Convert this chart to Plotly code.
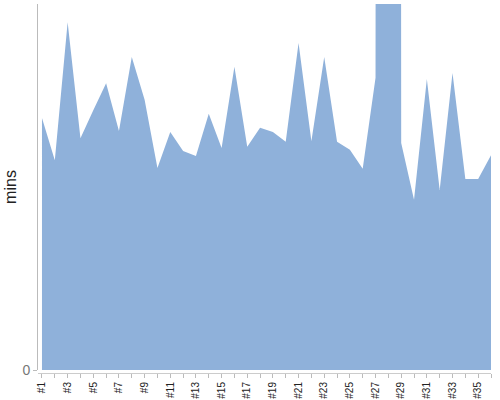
import plotly.graph_objects as go

categories = ["#%d" % i for i in range(1, 37)]
mins = [41.3, 34.4, 57.0, 38.0, 42.6, 47.0, 39.2, 51.3, 44.3, 33.1,
        39.0, 35.9, 35.1, 42.0, 36.4, 49.7, 36.6, 39.7, 39.0, 37.4,
        53.6, 37.5, 51.3, 37.4, 36.1, 33.0, 47.9, 3000.0, 37.2, 27.9,
        47.7, 29.5, 48.7, 31.3, 31.3, 35.2]
tick_text = [c if i % 2 == 0 else "" for i, c in enumerate(categories)]

fig = go.Figure()
fig.add_trace(go.Scatter(
    x=categories, y=mins, mode="lines", fill="tozeroy",
    line=dict(width=0, color="rgb(143,177,218)"),
    fillcolor="rgb(143,177,218)", hoverinfo="skip", showlegend=False,
))

fig.update_layout(
    width=500, height=400,
    margin=dict(l=38, r=9, t=4, b=27),
    paper_bgcolor="white", plot_bgcolor="white",
    font=dict(family="Arial, Liberation Sans, sans-serif"),
    xaxis=dict(
        type="category", range=[-0.31, 35],
        tickmode="array", tickvals=categories, ticktext=tick_text,
        tickangle=-90, tickfont=dict(size=10, color="#222"),
        ticks="outside", ticklen=4, tickcolor="#bbb",
        showline=True, linecolor="#ccc", linewidth=1,
        showgrid=False, zeroline=False,
        anchor="free", position=0, automargin=False,
    ),
    yaxis=dict(
        domain=[3 / 369, 1], range=[0, 60],
        tickmode="array", tickvals=[0], ticktext=["0"],
        tickfont=dict(size=14, color="#777"),
        ticks="outside", ticklen=4, tickcolor="#bbb",
        showline=True, linecolor="#bbb", linewidth=1,
        showgrid=False, zeroline=False,
        title=dict(text="mins", font=dict(size=16, color="#222"), standoff=1),
        automargin=False,
    ),
)

fig.write_html("out.html", config={"displayModeBar": False},
               post_script="document.body.style.margin='0';")
